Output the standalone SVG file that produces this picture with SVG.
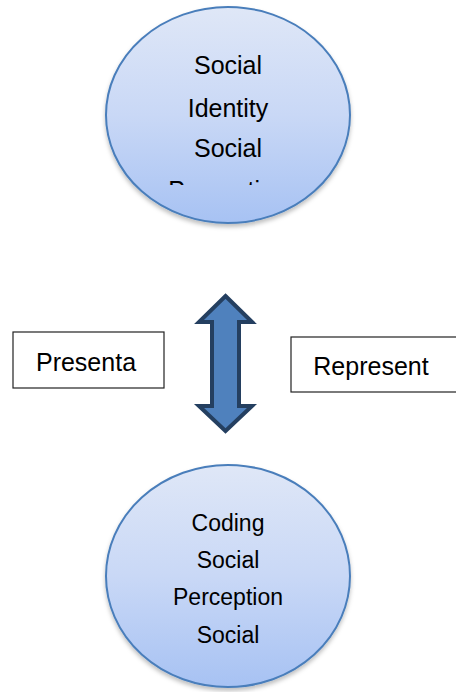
<svg xmlns="http://www.w3.org/2000/svg" width="456" height="692" viewBox="0 0 456 692">
<style>
.t{font-family:"Liberation Sans",Arial,sans-serif;fill:#000;text-anchor:middle}
.c{stroke:#4a7ebb;stroke-width:2;fill:url(#g)}
.b{fill:#fff;stroke:#222;stroke-width:1.2}
</style>
<defs>
<linearGradient id="g" x1="0" y1="0" x2="0" y2="1">
<stop offset="0" stop-color="#dfe7f7"/>
<stop offset="0.5" stop-color="#c9d8f6"/>
<stop offset="1" stop-color="#a7c2f3"/>
</linearGradient>
<filter id="sh" x="-10%" y="-10%" width="120%" height="125%">
<feDropShadow dx="0" dy="3" stdDeviation="2" flood-color="#000" flood-opacity="0.25"/>
</filter>
<clipPath id="clip1"><rect x="100" y="0" width="260" height="185"/></clipPath>
</defs>
<rect width="456" height="692" fill="#fff"/>
<g id="node-top">
<ellipse class="c" cx="228" cy="115" rx="122" ry="108" filter="url(#sh)"/>
<g clip-path="url(#clip1)" class="t" font-size="25">
<text x="228" y="74">Social</text>
<text x="228" y="117">Identity</text>
<text x="228" y="157">Social</text>
<text x="228" y="199">Perception</text>
</g>
</g>
<g id="node-presenta">
<rect class="b" x="13" y="332" width="151" height="56"/>
<text class="t" x="86" y="371" font-size="25">Presenta</text>
</g>
<g id="node-represent">
<rect class="b" x="291" y="337" width="175" height="55"/>
<text class="t" x="371" y="375" font-size="25">Represent</text>
</g>
<g id="connectors">
<polygon points="225.5,296 252,322 239,322 239,406 252,406 225.5,431 199,406 212,406 212,322 199,322" fill="#4f81bd" stroke="#243f60" stroke-width="4" stroke-linejoin="miter"/>
</g>
<g id="node-bottom">
<ellipse class="c" cx="228" cy="576" rx="122" ry="111" filter="url(#sh)"/>
<g class="t" font-size="23">
<text x="228" y="531">Coding</text>
<text x="228" y="568">Social</text>
<text x="228" y="605">Perception</text>
<text x="228" y="643">Social</text>
</g>
</g>
</svg>
